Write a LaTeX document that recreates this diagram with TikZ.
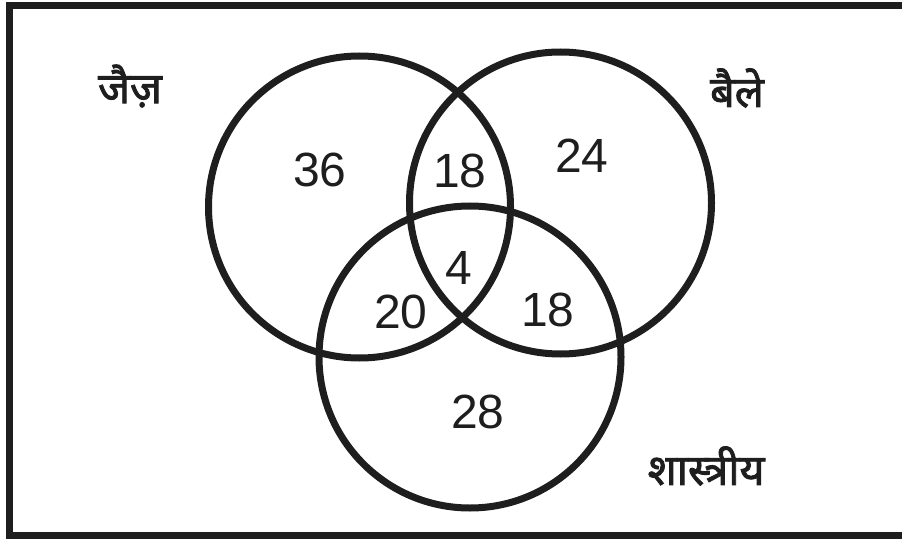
\documentclass[tikz,border=0pt]{standalone}
\usepackage{fontspec}
\setmainfont{Liberation Sans}
\newfontfamily\hindifont[Script=Devanagari, AutoFakeBold=2]{Noto Sans}
\definecolor{inkgray}{HTML}{1E1E1E}
\begin{document}
\begin{tikzpicture}[x=1pt, y=-1pt]
    \useasboundingbox (0,0) rectangle (902,540);
    \draw[line width=7pt, draw=inkgray] (902,6) -- (9,6) -- (9,535) -- (902,535);
    \begin{scope}[line width=7pt, every node/.style = {draw=inkgray, circle, inner sep=0pt, minimum size=302pt}]
      \node (jazz)      at (359.5,207) {};
      \node (ballet)    at (560.5,203) {};
      \node (classical) at (470,357)   {};
    \end{scope}
    \begin{scope}[every node/.style = {inner sep=0pt, text=inkgray, font=\fontsize{48}{54}\selectfont}]
      \node (onlyJazz)      at (320,170) {36};
      \node (jazzBallet)    at (460,171) {18};
      \node (onlyBallet)    at (582,156) {24};
      \node (allThree)      at (459,268) {4};
      \node (jazzClassical) at (401,312) {20};
      \node (balletClassic) at (548,310) {18};
      \node (onlyClassical) at (478,412) {28};
    \end{scope}
    \begin{scope}[every node/.style = {inner sep=0pt, text=inkgray, font=\hindifont\bfseries\fontsize{43}{48}\selectfont}]
      \node (jazzLabel)      at (130,86)  {जैज़};
      \node (balletLabel)    at (737,88)  {बैले};
      \node (classicalLabel) at (706,466) {शास्त्रीय};
    \end{scope}
\end{tikzpicture}
\end{document}
